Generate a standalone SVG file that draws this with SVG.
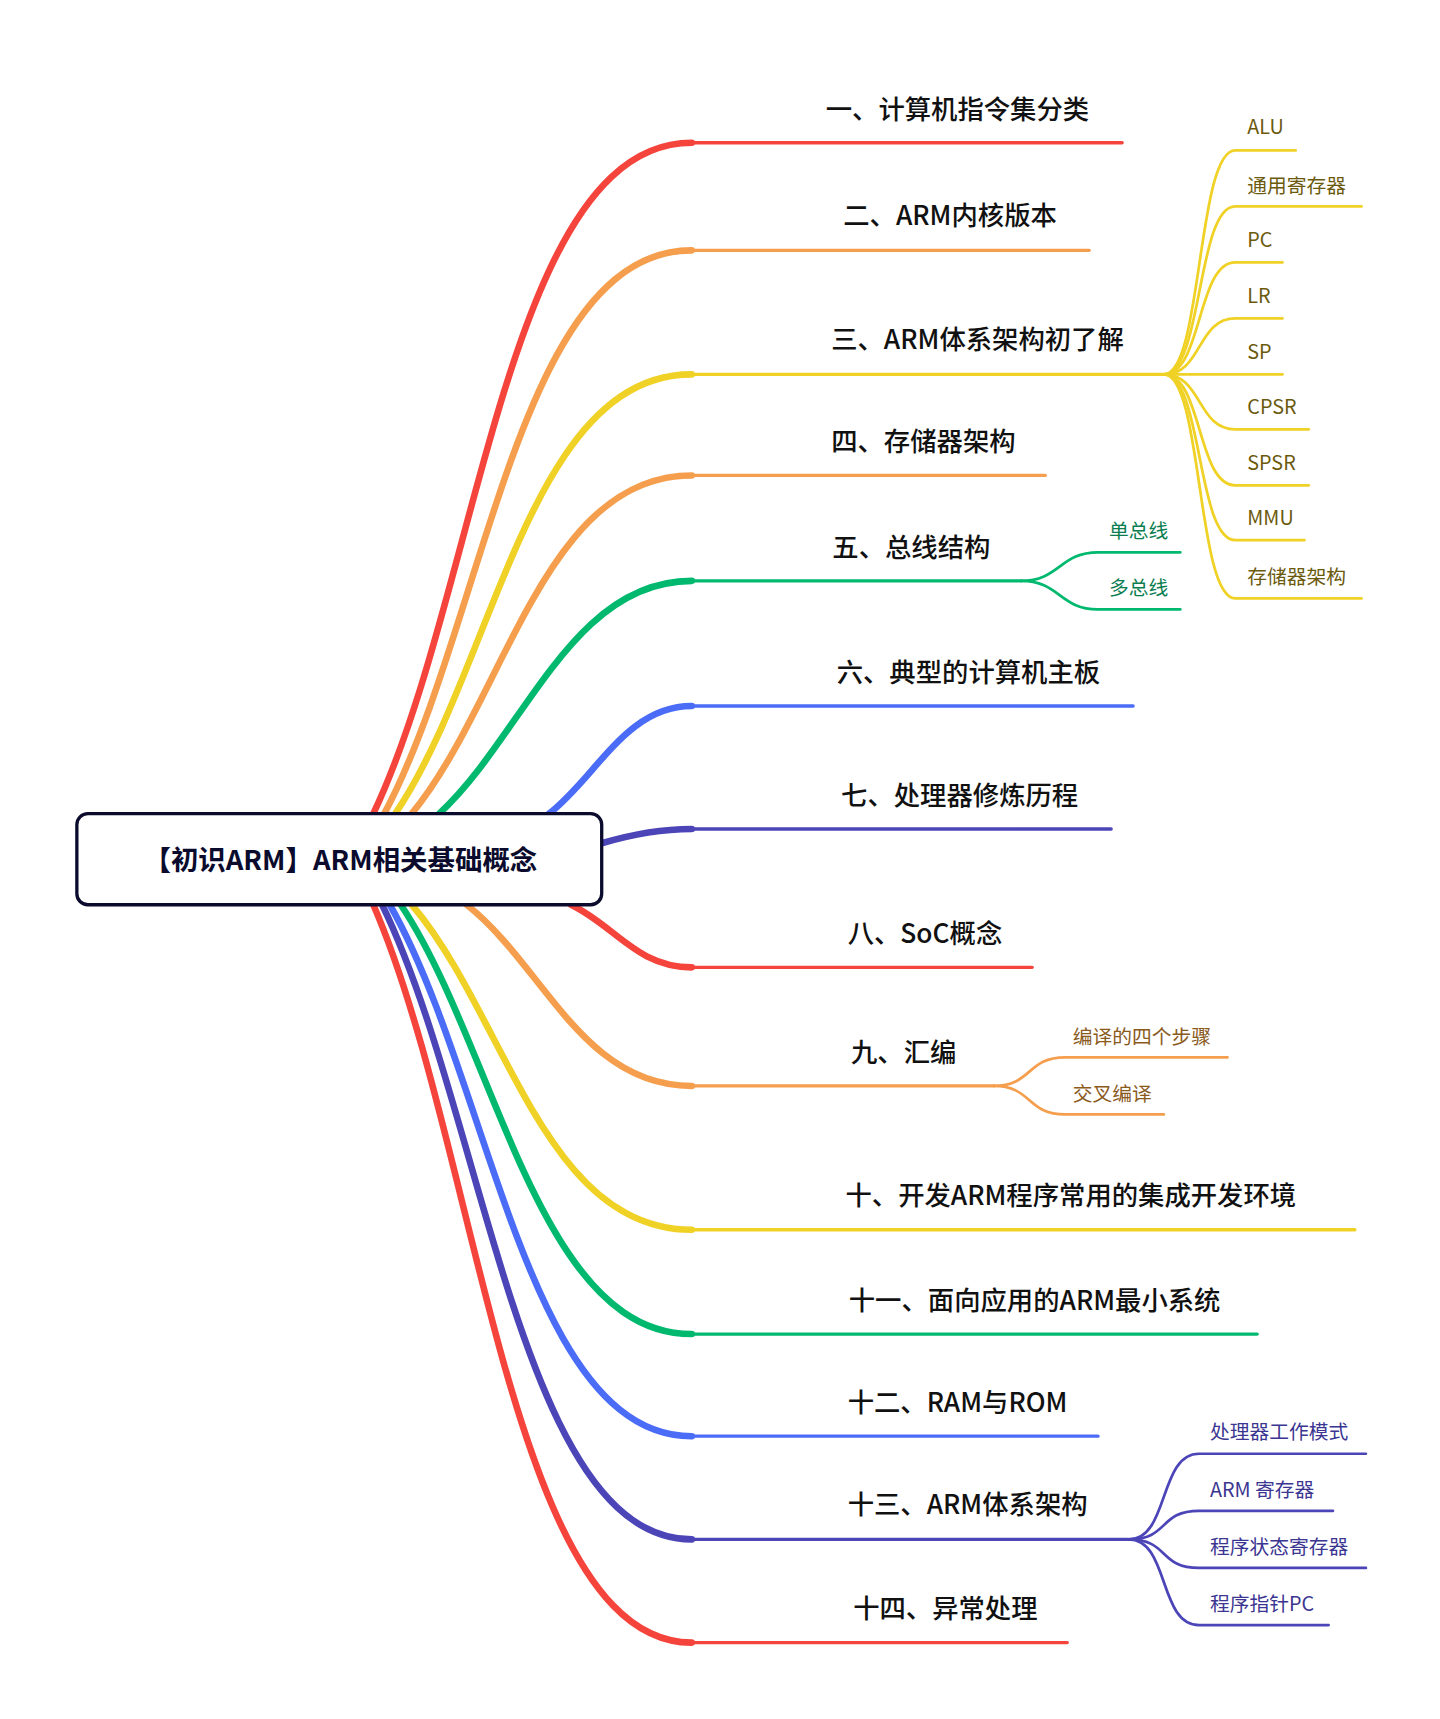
<svg xmlns="http://www.w3.org/2000/svg" width="1440" height="1719" viewBox="0 0 1440 1719">
<style>
text{font-family:"Noto Sans CJK SC","Noto Sans",sans-serif}
.t{font-size:24px;fill:#111;font-weight:500}
.s{font-size:18px}
.c{fill:none;stroke-linecap:round}
.r{stroke:#f5443c}.o{stroke:#f59f4e}.y{stroke:#f0d126}.g{stroke:#00b96f}.b{stroke:#4a6cf7}.i{stroke:#4c45b8}
.w{stroke-width:6}.h{stroke-width:3}.k{stroke-width:2.5}
</style>
<rect width="1440" height="1719" fill="#fff"/>
<g transform="scale(1.098)">
<g id="connectors">
<path class="c r w" d="M340 741 C437 537 462 130 630 130"/><path class="c r h" d="M630 130 H1022"/>
<path class="c o w" d="M350 741 C443 566 472 228 630 228"/><path class="c o h" d="M630 228 H992"/>
<path class="c y w" d="M360 741 C450 608 482 341 630 341"/><path class="c y h" d="M630 341 H1060"/>
<path class="c o w" d="M375 741 C460 638 495 433 630 433"/><path class="c o h" d="M630 433 H952"/>
<path class="c g w" d="M400 741 C477 670 520 529 630 529"/><path class="c g h" d="M630 529 H930"/>
<path class="c b w" d="M500 741 C543 708 570 643 630 643"/><path class="c b h" d="M630 643 H1032"/>
<path class="c i w" d="M548 768 C575 760 600 755 630 755"/><path class="c i h" d="M630 755 H1012"/>
<path class="c r w" d="M520 824 C560 843 580 881 630 881"/><path class="c r h" d="M630 881 H940"/>
<path class="c o w" d="M425 824 C495 879 530 989 630 989"/><path class="c o h" d="M630 989 H905"/>
<path class="c y w" d="M375 824 C460 923 495 1120 630 1120"/><path class="c y h" d="M630 1120 H1234"/>
<path class="c g w" d="M365 824 C452 954 490 1215 630 1215"/><path class="c g h" d="M630 1215 H1145"/>
<path class="c b w" d="M355 824 C447 985 480 1308 630 1308"/><path class="c b h" d="M630 1308 H1000"/>
<path class="c i w" d="M348 824 C442 1017 475 1402 630 1402"/><path class="c i h" d="M630 1402 H1028"/>
<path class="c r w" d="M340 824 C437 1048 465 1496 630 1496"/><path class="c r h" d="M630 1496 H972"/>
<g class="c y k">
<path d="M1060 341 C1095 341 1090 137 1125 137 H1180"/>
<path d="M1060 341 C1095 341 1090 188 1125 188 H1240"/>
<path d="M1060 341 C1095 341 1090 239 1125 239 H1168"/>
<path d="M1060 341 C1095 341 1090 290 1125 290 H1168"/>
<path d="M1060 341 H1168"/>
<path d="M1060 341 C1095 341 1090 391 1125 391 H1192"/>
<path d="M1060 341 C1095 341 1090 442 1125 442 H1192"/>
<path d="M1060 341 C1095 341 1090 492 1125 492 H1188"/>
<path d="M1060 341 C1095 341 1090 545 1125 545 H1240"/>
</g>
<g class="c g k">
<path d="M930 529 C965 529 965 503 1000 503 H1075"/>
<path d="M930 529 C965 529 965 555 1000 555 H1075"/>
</g>
<g class="c o k">
<path d="M905 989 C940 989 935 963 970 963 H1118"/>
<path d="M905 989 C940 989 935 1015 970 1015 H1060"/>
</g>
<g class="c i k">
<path d="M1028 1402 C1065 1402 1055 1324 1092 1324 H1244"/>
<path d="M1028 1402 C1065 1402 1055 1376 1092 1376 H1214"/>
<path d="M1028 1402 C1065 1402 1055 1428 1092 1428 H1244"/>
<path d="M1028 1402 C1065 1402 1055 1480 1092 1480 H1210"/>
</g>
</g>
<g id="root"><rect x="70" y="741" width="478" height="83" rx="10" fill="#fff" stroke="#0b0b2e" stroke-width="3"/>
<text x="310" y="792" text-anchor="middle" font-size="25" font-weight="bold" fill="#0b0b2e">【初识ARM】ARM相关基础概念</text></g>
<g id="n1"><text class="t" x="752" y="108">一、计算机指令集分类</text></g>
<g id="n2"><text class="t" x="768" y="205">二、ARM内核版本</text></g>
<g id="n3"><text class="t" x="757" y="318">三、ARM体系架构初了解</text></g>
<g id="n4"><text class="t" x="757" y="411">四、存储器架构</text></g>
<g id="n5"><text class="t" x="758" y="507">五、总线结构</text></g>
<g id="n6"><text class="t" x="762" y="621">六、典型的计算机主板</text></g>
<g id="n7"><text class="t" x="766" y="733">七、处理器修炼历程</text></g>
<g id="n8"><text class="t" x="772" y="859">八、SoC概念</text></g>
<g id="n9"><text class="t" x="775" y="967">九、汇编</text></g>
<g id="n10"><text class="t" x="770" y="1097">十、开发ARM程序常用的集成开发环境</text></g>
<g id="n11"><text class="t" x="773" y="1193">十一、面向应用的ARM最小系统</text></g>
<g id="n12"><text class="t" x="772" y="1286">十二、RAM与ROM</text></g>
<g id="n13"><text class="t" x="772" y="1379">十三、ARM体系架构</text></g>
<g id="n14"><text class="t" x="777" y="1474">十四、异常处理</text></g>
<g id="n3c">
<text class="s" x="1136" y="122" fill="#6b5a0e">ALU</text>
<text class="s" x="1136" y="176" fill="#6b5a0e">通用寄存器</text>
<text class="s" x="1136" y="225" fill="#6b5a0e">PC</text>
<text class="s" x="1136" y="276" fill="#6b5a0e">LR</text>
<text class="s" x="1136" y="327" fill="#6b5a0e">SP</text>
<text class="s" x="1136" y="377" fill="#6b5a0e">CPSR</text>
<text class="s" x="1136" y="428" fill="#6b5a0e">SPSR</text>
<text class="s" x="1136" y="478" fill="#6b5a0e">MMU</text>
<text class="s" x="1136" y="532" fill="#6b5a0e">存储器架构</text>
</g>
<g id="n5c"><text class="s" x="1010" y="490" fill="#0a7d50">单总线</text><text class="s" x="1010" y="542" fill="#0a7d50">多总线</text></g>
<g id="n9c"><text class="s" x="977" y="951" fill="#8a5a1c">编译的四个步骤</text><text class="s" x="977" y="1003" fill="#8a5a1c">交叉编译</text></g>
<g id="n13c">
<text class="s" x="1102" y="1311" fill="#3b3691">处理器工作模式</text>
<text class="s" x="1102" y="1363" fill="#3b3691">ARM 寄存器</text>
<text class="s" x="1102" y="1415" fill="#3b3691">程序状态寄存器</text>
<text class="s" x="1102" y="1467" fill="#3b3691">程序指针PC</text>
</g>
</g>
</svg>
